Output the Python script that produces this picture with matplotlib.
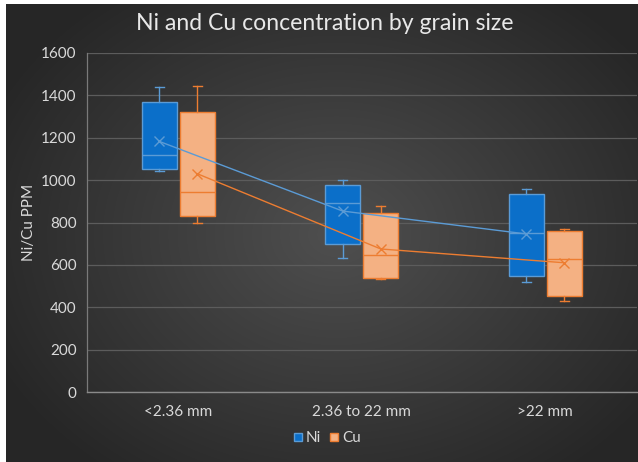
import numpy as np
import matplotlib
matplotlib.use("Agg")
import matplotlib.pyplot as plt
from matplotlib.lines import Line2D

categories = ['<2.36 mm', '2.36 to 22 mm', '>22 mm']
series = ['Ni', 'Cu']
ni_min = [1044, 634, 519]
ni_q1 = [1052, 697, 546]
ni_med = [1120, 890, 750]
ni_q3 = [1367, 975, 934]
ni_max = [1441, 1000, 957]
ni_mean = [1183, 854, 746]
cu_min = [796, 532, 428]
cu_q1 = [830, 538, 453]
cu_med = [942, 646, 626]
cu_q3 = [1320, 845, 760]
cu_max = [1444, 879, 768]
cu_mean = [1030, 675, 610]
yticks = [0, 200, 400, 600, 800, 1000, 1200, 1400, 1600]

plt.rcParams['font.family'] = ['Lato', 'DejaVu Sans']
W, H = 638, 462
fig = plt.figure(figsize=(W/100, H/100), dpi=100)
fig.patch.set_facecolor('white')

# background with radial gradient
bx0, by0 = 6, 4
bg = fig.add_axes([bx0/W, 0, 1 - bx0/W, 1 - by0/H])
bg.set_axis_off()
yy, xx = np.mgrid[0:H-by0, 0:W-bx0]
cx, cy = 330, 230
r = np.sqrt(((xx - cx)/ 380.0)**2 + ((yy - cy)/300.0)**2)
r = np.clip(r, 0, 1)
val = 0.31 - 0.16*r
img = np.dstack([val, val, val])
bg.imshow(img, aspect='auto', extent=[0, 1, 0, 1], interpolation='bilinear')
bg.set_xlim(0, 1); bg.set_ylim(0, 1)

ax_l, ax_r = 86.5, 637
ax_b, ax_t = 392, 53
ax = fig.add_axes([ax_l/W, (H-ax_b)/H, (ax_r-ax_l)/W, (ax_b-ax_t)/H])
ax.set_facecolor('none')
ax.set_xlim(0, 3)
ax.set_ylim(0, 1600)

ni_fill, ni_edge = '#0B6FC9', '#5B9BD5'
cu_fill, cu_edge = '#F4B183', '#ED7D31'

def stats(mn, q1, md, q3, mx, me):
    return [dict(whislo=a, q1=b, med=c, q3=d, whishi=e, mean=f, fliers=[])
            for a, b, c, d, e, f in zip(mn, q1, md, q3, mx, me)]

centers = np.arange(len(categories)) + 0.5
off = 0.104
bw = 0.19
for st, pos, fill, edge in [
        (stats(ni_min, ni_q1, ni_med, ni_q3, ni_max, ni_mean), centers - off, ni_fill, ni_edge),
        (stats(cu_min, cu_q1, cu_med, cu_q3, cu_max, cu_mean), centers + off, cu_fill, cu_edge)]:
    ax.bxp(st, positions=pos, widths=bw, patch_artist=True, showmeans=True,
           showfliers=False, manage_ticks=False, capwidths=0.05,
           boxprops=dict(facecolor=fill, edgecolor=edge, linewidth=1.0),
           medianprops=dict(color=edge, linewidth=1.0),
           whiskerprops=dict(color=edge, linewidth=1.0),
           capprops=dict(color=edge, linewidth=1.0),
           meanprops=dict(marker='x', markeredgecolor=edge, markersize=7,
                          markeredgewidth=1.0), zorder=3)

ax.plot(centers - off, ni_mean, color=ni_edge, lw=1.0, zorder=4)
ax.plot(centers + off, cu_mean, color=cu_edge, lw=1.0, zorder=4)

ax.set_yticks(yticks)
ax.set_yticklabels([str(v) for v in yticks])
ax.set_xticks(centers)
ax.set_xticklabels(categories)
ax.grid(axis='y', color='#5c5c5c', lw=0.9, zorder=0)
ax.set_axisbelow(True)
ax.tick_params(axis='both', length=0, colors='#d9d9d9', labelsize=11)
ax.tick_params(axis='y', pad=7)
ax.tick_params(axis='x', pad=9)
for s in ['top', 'right']:
    ax.spines[s].set_visible(False)
ax.spines['left'].set_color('#7a7a7a')
ax.spines['left'].set_linewidth(0.9)
ax.spines['bottom'].set_color('#8a8a8a')
ax.spines['bottom'].set_linewidth(1.0)
ax.set_ylabel('Ni/Cu PPM', color='#d9d9d9', fontsize=11, labelpad=4)

fig.text(325/W, 1 - 24/H, 'Ni and Cu concentration by grain size', color='#e8e8e8',
         fontsize=16.6, ha='center', va='center')

handles = [Line2D([], [], marker='s', ls='none', markersize=6, markerfacecolor=ni_fill,
                  markeredgecolor=ni_edge, label=series[0]),
           Line2D([], [], marker='s', ls='none', markersize=6, markerfacecolor=cu_fill,
                  markeredgecolor=cu_edge, label=series[1])]
leg = fig.legend(handles=handles, loc='center', bbox_to_anchor=(326/W, 1 - 438/H), ncol=2,
                 frameon=False, fontsize=11, handletextpad=0.1, columnspacing=0.5,
                 handlelength=0.8)
for t in leg.get_texts():
    t.set_color('#d9d9d9')

fig.savefig('out.png', dpi=100)
